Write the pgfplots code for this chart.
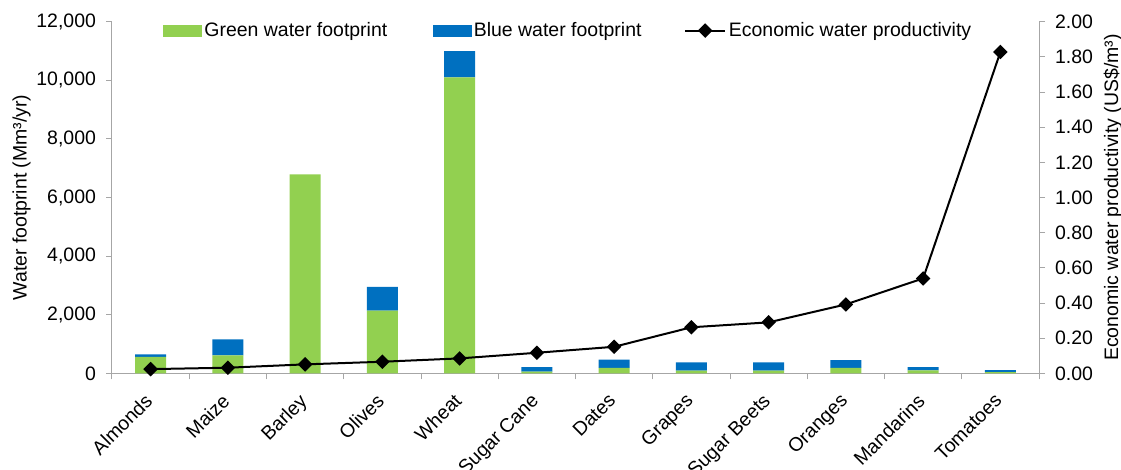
\documentclass[border=0pt]{standalone}
\usepackage{fontspec}
\setmainfont{Liberation Sans}
\usepackage{pgfplots}
\pgfplotsset{compat=1.18}

\definecolor{greenwf}{HTML}{92D050}
\definecolor{bluewf}{HTML}{0070C0}
\definecolor{axisgray}{HTML}{A6A6A6}

% Water footprint per crop (Mm3/yr)
\pgfplotstableread{
x green blue
0  565   85
1  615  545
2 6790    0
3 2140  815
4 10100 900
5   60  155
6  190  275
7   90  285
8   90  285
9  190  265
10 100  115
11  40   70
}\footprint

\pgfplotsset{
  common/.style={
    scale only axis, width=695.25pt, height=263.7pt,
    xmin=-0.5, xmax=11.5,
    axis line style={axisgray, line width=0.75pt},
    tick style={axisgray, line width=0.75pt},
    tick align=outside,
    major tick length=4.5pt, minor tick length=4.5pt,
    /pgf/number format/assume math mode=true,
    tick label style={font=\fontsize{14.6pt}{17pt}\selectfont, black},
    label style={font=\fontsize{14.6pt}{17pt}\selectfont, black},
  },
  diamond legend/.style={
    legend image code/.code={\draw[mark repeat=2, mark phase=2, ##1] plot coordinates {(0pt,0pt) (15pt,0pt) (30pt,0pt)};}
  },
  green legend/.style={
    legend image code/.code={\fill[greenwf] (0pt,-4pt) rectangle (28.5pt,4pt);}
  },
  blue legend/.style={
    legend image code/.code={\fill[bluewf] (0pt,-4pt) rectangle (28.5pt,4pt);}
  },
}

\begin{document}
\begin{tikzpicture}[font=\fontsize{14.6pt}{17pt}\selectfont]
\useasboundingbox (-84pt,-71.8pt) rectangle (756.75pt,280pt);

\begin{axis}[
  common,
  ymin=0, ymax=12000,
  axis y line*=left, axis x line*=bottom,
  xtick={0,...,11},
  xticklabels={Almonds,Maize,Barley,Olives,Wheat,Sugar Cane,Dates,Grapes,Sugar Beets,Oranges,Mandarins,Tomatoes},
  major x tick style={draw=none},
  minor xtick={-0.5,0.5,...,11.5},
  xticklabel style={xshift=-5.25pt, yshift=-6.75pt, rotate=45, anchor=north east, inner sep=2pt},
  ytick={0,2000,4000,6000,8000,10000,12000},
  scaled y ticks=false,
  yticklabel style={xshift=-4pt, /pgf/number format/.cd, fixed, 1000 sep={,}},
  ylabel={Water footprint (Mm³/yr)},
  ylabel shift=-2.5pt,
  ybar stacked, bar width=23.25pt,
]
\addplot[fill=greenwf, draw=none] table[x=x, y=green] {\footprint};
\addplot[fill=bluewf, draw=none] table[x=x, y=blue] {\footprint};
\end{axis}

\begin{axis}[
  common,
  ymin=0, ymax=2,
  axis y line*=right, axis x line=none,
  ytick={0,0.2,0.4,0.6,0.8,1.0,1.2,1.4,1.6,1.8,2.0},
  yticklabel style={xshift=4pt, /pgf/number format/.cd, fixed, fixed zerofill, precision=2},
  ylabel={Economic water productivity (US\$/m³)},
  ylabel shift=1.25pt,
  legend columns=3,
  legend style={
    at={(0.055,0.975)}, anchor=west,
    draw=none, fill=none, inner sep=0pt,
    font=\fontsize{14.6pt}{17pt}\selectfont,
    /tikz/column 2/.style={column sep=32pt},
    /tikz/column 4/.style={column sep=30pt},
  },
]
\addlegendimage{green legend}
\addlegendentry{Green water footprint}
\addlegendimage{blue legend}
\addlegendentry{Blue water footprint}
\addplot[black, line width=1.5pt, mark=square*, mark size=3.1pt,
  mark options={rotate=45, solid}, diamond legend]
  coordinates {
  (0,0.024) (1,0.032) (2,0.051) (3,0.066) (4,0.085) (5,0.117)
  (6,0.151) (7,0.262) (8,0.290) (9,0.392) (10,0.540) (11,1.828)
  };
\addlegendentry{Economic water productivity}
\end{axis}
\end{tikzpicture}
\end{document}
